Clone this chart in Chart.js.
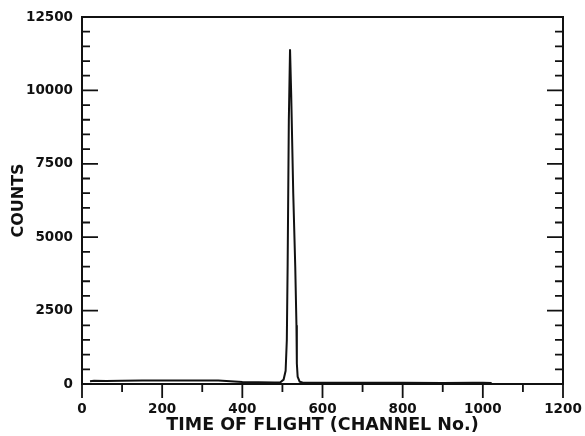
<!DOCTYPE html>
<html>
<head>
<meta charset="utf-8">
<script src="https://cdn.jsdelivr.net/npm/chart.js@4/dist/chart.umd.min.js"></script>
<style>
  html, body { margin: 0; padding: 0; background: #fff; }
  #wrap { width: 585px; height: 436px; position: relative; }
</style>
</head>
<body>
<div id="wrap"><canvas id="c"></canvas></div>
<script>
// time-of-flight spectrum
const channels = [20, 30, 60, 100, 150, 200, 250, 300, 340, 370, 400, 440, 480, 495,
    503, 508, 511, 513, 516, 519, 522, 527, 532, 535, 536, 538, 543, 550,
    600, 700, 800, 900, 975, 1000, 1022];
const counts = [90, 110, 100, 110, 120, 120, 115, 120, 115, 95, 70, 60, 55, 60,
    150, 450, 1500, 4000, 9000, 11400, 9800, 6500, 4000, 2000, 700, 250, 80, 50,
    45, 42, 40, 38, 45, 45, 35];

const xTicks = [0, 200, 400, 600, 800, 1000, 1200];
const yTicks = [0, 2500, 5000, 7500, 10000, 12500];

const ink = '#111';
const tickFont = { family: 'DejaVu Sans', size: 13.5, weight: 'bold' };
const titleFont = { family: 'DejaVu Sans', size: 17.5, weight: 'bold' };

// frame + tick marks (inward on y, outward below x)
const framePlugin = {
    id: 'frame',
    afterDraw: (chart) => {
        const ctx = chart.ctx;
        const a = chart.chartArea;
        const xs = chart.scales.x;
        const ys = chart.scales.y;
        ctx.save();
        ctx.strokeStyle = ink;
        ctx.lineWidth = 2;
        ctx.strokeRect(a.left, a.top, a.right - a.left, a.bottom - a.top);

        ctx.lineWidth = 1.8;
        ctx.beginPath();
        for (let v = 0; v <= 12500; v += 500) {
            const y = ys.getPixelForValue(v);
            const len = v % 2500 === 0 ? 16 : 8;
            ctx.moveTo(a.left, y);
            ctx.lineTo(a.left + len, y);
            ctx.moveTo(a.right, y);
            ctx.lineTo(a.right - len, y);
        }
        for (let v = 0; v <= 1200; v += 100) {
            const x = xs.getPixelForValue(v);
            const len = v % 200 === 0 ? 14 : 8;
            ctx.moveTo(x, a.bottom);
            ctx.lineTo(x, a.bottom + len);
        }
        ctx.stroke();
        ctx.restore();
    }
};

new Chart(document.getElementById('c'), {
    type: 'line',
    plugins: [framePlugin],
    data: {
        datasets: [{
            data: channels.map((c, i) => ({ x: c, y: counts[i] })),
            borderColor: ink,
            borderWidth: 2,
            pointRadius: 0,
            tension: 0,
            fill: false
        }]
    },
    options: {
        responsive: true,
        maintainAspectRatio: false,
        animation: false,
        layout: { padding: { left: 0, right: 22, top: 17, bottom: 0 } },
        plugins: { legend: { display: false }, tooltip: { enabled: false } },
        scales: {
            x: {
                type: 'linear',
                min: 0,
                max: 1200,
                afterFit: (s) => { s.height = 52; s.paddingLeft = 0; s.paddingRight = 0; },
                afterBuildTicks: (s) => { s.ticks = xTicks.map(v => ({ value: v })); },
                grid: { display: false, drawTicks: false },
                border: { display: false },
                ticks: { color: ink, font: tickFont, padding: 17, maxRotation: 0, callback: (v) => String(v) },
                title: { display: true, text: 'TIME OF FLIGHT (CHANNEL No.)', color: ink, font: titleFont, padding: { top: 0, bottom: 0 } }
            },
            y: {
                min: 0,
                max: 12500,
                afterFit: (s) => { s.width = 82; s.paddingTop = 0; s.paddingBottom = 0; },
                afterBuildTicks: (s) => { s.ticks = yTicks.map(v => ({ value: v })); },
                grid: { display: false, drawTicks: false },
                border: { display: false },
                ticks: { color: ink, font: tickFont, padding: 9, callback: (v) => String(v) },
                title: { display: true, text: 'COUNTS', color: ink, font: { family: 'DejaVu Sans', size: 16, weight: 'bold' }, padding: { top: 9, bottom: 0 } }
            }
        }
    }
});
</script>
</body>
</html>
